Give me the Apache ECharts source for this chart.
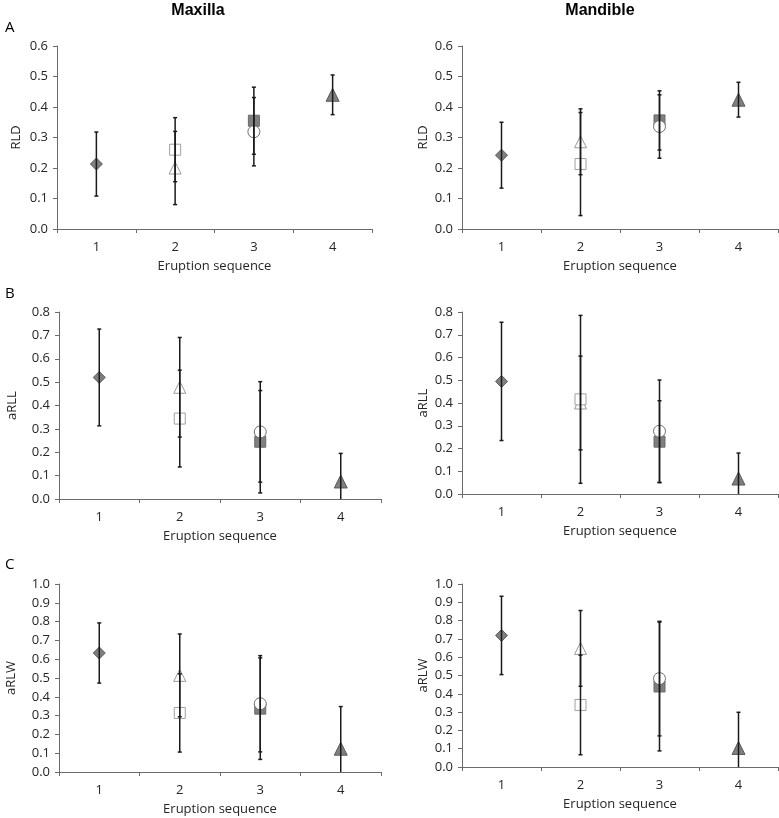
<!DOCTYPE html>
<html>
<head>
<meta charset="utf-8">
<script src="https://cdn.jsdelivr.net/npm/echarts@6/dist/echarts.min.js"></script>
<style>
html,body{margin:0;padding:0;background:#fff;}
#chart{width:779px;height:818px;}
</style>
</head>
<body>
<div id="chart"></div>
<script>
// Categories (eruption sequence)
const categories = ['1', '2', '3', '4'];
// Series order: gray diamond, open triangle, open square, gray square, open circle, gray triangle
const seriesCategory = [0, 1, 1, 2, 2, 3];

// Panel A – RLD
const maxRLDMean = [0.213, 0.200, 0.260, 0.355, 0.319, 0.440];
const maxRLDErr  = [0.105, 0.120, 0.105, 0.110, 0.112, 0.065];
const manRLDMean = [0.242, 0.286, 0.213, 0.356, 0.336, 0.424];
const manRLDErr  = [0.108, 0.108, 0.169, 0.097, 0.104, 0.057];
// Panel B – aRLL
const maxRLLMean = [0.520, 0.478, 0.344, 0.245, 0.287, 0.075];
const maxRLLErr  = [0.207, 0.213, 0.207, 0.219, 0.215, 0.120];
const manRLLMean = [0.495, 0.400, 0.416, 0.230, 0.276, 0.068];
const manRLLErr  = [0.260, 0.206, 0.369, 0.180, 0.225, 0.112];
// Panel C – aRLW
const maxRLWMean = [0.633, 0.514, 0.314, 0.337, 0.363, 0.124];
const maxRLWErr  = [0.160, 0.220, 0.208, 0.270, 0.256, 0.224];
const manRLWMean = [0.719, 0.648, 0.339, 0.440, 0.483, 0.104];
const manRLWErr  = [0.214, 0.207, 0.272, 0.352, 0.313, 0.195];

const panels = [
  {mean: maxRLDMean, err: maxRLDErr, name: 'RLD',  max: 0.6, grid: {left: 57, top: 46, width: 315, height: 183}, nameGap: 34},
  {mean: manRLDMean, err: manRLDErr, name: 'RLD',  max: 0.6, grid: {left: 462, top: 46, width: 316, height: 183}, nameGap: 32},
  {mean: maxRLLMean, err: maxRLLErr, name: 'aRLL', max: 0.8, grid: {left: 59, top: 312, width: 322, height: 187}, nameGap: 40},
  {mean: manRLLMean, err: manRLLErr, name: 'aRLL', max: 0.8, grid: {left: 462, top: 312, width: 316, height: 182}, nameGap: 32},
  {mean: maxRLWMean, err: maxRLWErr, name: 'aRLW', max: 1.0, grid: {left: 59, top: 584, width: 322, height: 188}, nameGap: 41},
  {mean: manRLWMean, err: manRLWErr, name: 'aRLW', max: 1.0, grid: {left: 462, top: 584, width: 316, height: 183}, nameGap: 32}
];

const markerStyles = [
  {symbol: 'diamond',  size: 12, color: '#7f7f7f', border: '#5a5a5a'},
  {symbol: 'triangle', size: 12, color: '#ffffff', border: '#9a9a9a'},
  {symbol: 'rect',     size: 11, color: '#ffffff', border: '#a0a0a0'},
  {symbol: 'rect',     size: 11, color: '#7f7f7f', border: '#6a6a6a'},
  {symbol: 'circle',   size: 12, color: '#ffffff', border: '#6f6f6f'},
  {symbol: 'triangle', size: 13, color: '#7f7f7f', border: '#5a5a5a'}
];

const FONT = 'Open Sans';
const FS = 13;
const axisColor = '#6b6b6b';
const textColor = '#262626';

const grids = [], xAxes = [], yAxes = [], series = [];
panels.forEach((p, i) => {
  grids.push(Object.assign({containLabel: false}, p.grid));
  xAxes.push({
    type: 'category', gridIndex: i, data: categories, boundaryGap: true,
    name: 'Eruption sequence', nameLocation: 'middle', nameGap: 31,
    nameTextStyle: {fontFamily: FONT, fontSize: FS, color: textColor},
    axisLine: {lineStyle: {color: axisColor, width: 1}},
    axisTick: {show: true, inside: false, length: 4, lineStyle: {color: axisColor}},
    axisLabel: {fontFamily: FONT, fontSize: FS, color: textColor, margin: 12},
    splitLine: {show: false}
  });
  yAxes.push({
    type: 'value', gridIndex: i, min: 0, max: p.max, interval: 0.1,
    name: p.name, nameLocation: 'middle', nameGap: p.nameGap, nameRotate: 90,
    nameTextStyle: {fontFamily: FONT, fontSize: FS, color: textColor},
    axisLine: {show: true, lineStyle: {color: axisColor, width: 1}},
    axisTick: {show: true, inside: false, length: 4, lineStyle: {color: axisColor}},
    axisLabel: {fontFamily: FONT, fontSize: FS, color: textColor, margin: 9,
      formatter: v => v.toFixed(1)},
    splitLine: {show: false}
  });
  p.mean.forEach((m, k) => {
    const st = markerStyles[k];
    series.push({
      type: 'scatter', xAxisIndex: i, yAxisIndex: i,
      symbol: st.symbol, symbolSize: st.size, z: 2,
      itemStyle: {color: st.color, borderColor: st.border, borderWidth: 1, opacity: 1},
      emphasis: {disabled: true},
      data: [[seriesCategory[k], m]]
    });
  });
  const errData = p.mean.map((m, k) => [seriesCategory[k], m - p.err[k], m + p.err[k]]);
  series.push({
    type: 'custom', xAxisIndex: i, yAxisIndex: i, z: 5, clip: true,
    encode: {x: 0, y: [1, 2]},
    data: errData,
    renderItem: function (params, api) {
      const x = api.value(0);
      const lo = api.coord([x, api.value(1)]);
      const hi = api.coord([x, api.value(2)]);
      const cw = 2;
      const ls = {stroke: '#1a1a1a', lineWidth: 1.5};
      return {
        type: 'group',
        children: [
          {type: 'line', shape: {x1: lo[0], y1: lo[1], x2: hi[0], y2: hi[1]}, style: ls},
          {type: 'line', shape: {x1: hi[0] - cw, y1: hi[1], x2: hi[0] + cw, y2: hi[1]}, style: {stroke: '#1a1a1a', lineWidth: 1.5}},
          {type: 'line', shape: {x1: lo[0] - cw, y1: lo[1], x2: lo[0] + cw, y2: lo[1]}, style: {stroke: '#1a1a1a', lineWidth: 1.5}}
        ]
      };
    }
  });
});

const chart = echarts.init(document.getElementById('chart'), null, {renderer: 'canvas'});
chart.setOption({
  animation: false,
  backgroundColor: '#ffffff',
  title: [
    {text: 'Maxilla', left: 193, top: -2, textAlign: 'center', textStyle: {fontFamily: 'Liberation Sans', fontSize: 16, fontWeight: 'bold', color: '#000'}},
    {text: 'Mandible', left: 595, top: -2, textAlign: 'center', textStyle: {fontFamily: 'Liberation Sans', fontSize: 16, fontWeight: 'bold', color: '#000'}},
    {text: 'A', left: 0, top: 15, textStyle: {fontFamily: FONT, fontSize: 15, fontWeight: 'normal', color: '#000'}},
    {text: 'B', left: 0, top: 281, textStyle: {fontFamily: FONT, fontSize: 15, fontWeight: 'normal', color: '#000'}},
    {text: 'C', left: 0, top: 552, textStyle: {fontFamily: FONT, fontSize: 15, fontWeight: 'normal', color: '#000'}}
  ],
  grid: grids,
  xAxis: xAxes,
  yAxis: yAxes,
  series: series
});
</script>
</body>
</html>
